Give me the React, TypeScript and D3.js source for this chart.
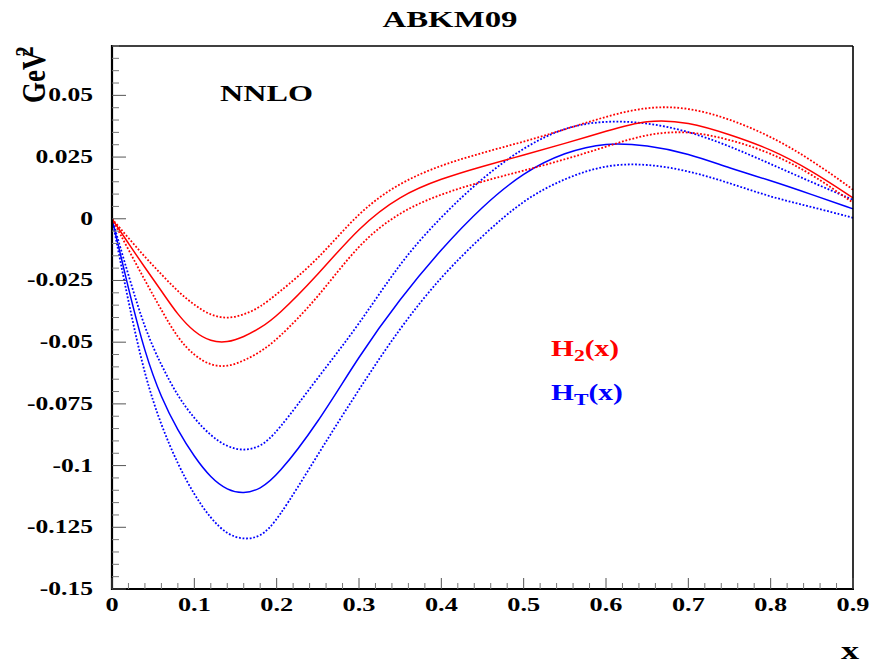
import React from 'react';
import * as d3 from 'd3';

// x grid shared by all series
const xValues = [0, 0.02, 0.04, 0.06, 0.08, 0.1, 0.12, 0.14, 0.16, 0.18, 0.2, 0.25, 0.3, 0.35, 0.4, 0.45, 0.5, 0.55, 0.6, 0.65, 0.7, 0.75, 0.8, 0.85, 0.9];

// H2(x) central and band
const h2Central = [0, -0.0100, -0.0198, -0.0292, -0.0390, -0.0460, -0.0498, -0.0502, -0.0479, -0.0443, -0.0397, -0.0228, -0.0033, 0.0095, 0.0163, 0.0213, 0.0258, 0.0305, 0.0355, 0.0403, 0.0393, 0.0342, 0.0283, 0.0195, 0.0085];
const h2Upper = [0, -0.0078, -0.0155, -0.0225, -0.0295, -0.0350, -0.0392, -0.0405, -0.0390, -0.0358, -0.0306, -0.0168, 0.0030, 0.0148, 0.0218, 0.0268, 0.0312, 0.0362, 0.0415, 0.0455, 0.0452, 0.0405, 0.0335, 0.0238, 0.0118];
const h2Lower = [0, -0.0125, -0.0250, -0.0370, -0.0485, -0.0555, -0.0595, -0.0600, -0.0576, -0.0540, -0.0492, -0.0322, -0.0098, 0.0030, 0.0101, 0.0152, 0.0195, 0.0240, 0.0292, 0.0345, 0.0357, 0.0322, 0.0268, 0.0182, 0.0065];

// HT(x) central and band
const htCentral = [0, -0.0285, -0.0545, -0.0728, -0.0858, -0.0965, -0.1050, -0.1100, -0.1115, -0.1095, -0.1045, -0.0829, -0.0555, -0.0323, -0.0122, 0.0052, 0.0189, 0.0270, 0.0310, 0.0298, 0.0265, 0.0205, 0.0155, 0.0098, 0.0040];
const htUpper = [0, -0.0230, -0.0448, -0.0595, -0.0720, -0.0810, -0.0880, -0.0925, -0.0940, -0.0925, -0.0868, -0.0643, -0.0430, -0.0175, 0.0010, 0.0167, 0.0290, 0.0373, 0.0398, 0.0390, 0.0355, 0.0295, 0.0222, 0.0148, 0.0077];
const htLower = [0, -0.0340, -0.0640, -0.0840, -0.0995, -0.1120, -0.1215, -0.1280, -0.1300, -0.1290, -0.1228, -0.0955, -0.0690, -0.0440, -0.0232, -0.0068, 0.0078, 0.0165, 0.0220, 0.0223, 0.0195, 0.0145, 0.0088, 0.0048, 0.0004];

const yTickValues = [0.05, 0.025, 0, -0.025, -0.05, -0.075, -0.1, -0.125, -0.15];
const yTickLabels = ['0.05', '0.025', '0', '-0.025', '-0.05', '-0.075', '-0.1', '-0.125', '-0.15'];
const xTickValues = [0, 0.1, 0.2, 0.3, 0.4, 0.5, 0.6, 0.7, 0.8, 0.9];
const xTickLabels = ['0', '0.1', '0.2', '0.3', '0.4', '0.5', '0.6', '0.7', '0.8', '0.9'];

const FONT = '"Liberation Serif", "DejaVu Serif", serif';
const RED = '#ff0000';
const BLUE = '#0000ff';

export default function App() {
  const W = 872;
  const H = 664;
  const x = d3.scaleLinear().domain([0, 0.9]).range([112, 853]);
  const y = d3.scaleLinear().domain([-0.15, 0.07]).range([589, 46]);

  const mkLine = (vals: number[]) =>
    d3
      .line<number>()
      .x((_, i) => x(xValues[i]))
      .y((d) => y(d))
      .curve(d3.curveBasis)(vals) || '';

  const minorY = d3.range(0, 45).filter((i) => i % 5 !== 0).map((i) => -0.15 + i * 0.005);
  const minorX = d3.range(0, 46).filter((i) => i % 5 !== 0).map((i) => i * 0.02);

  const series = [
    { vals: htUpper, color: BLUE, dotted: true },
    { vals: htLower, color: BLUE, dotted: true },
    { vals: htCentral, color: BLUE, dotted: false },
    { vals: h2Upper, color: RED, dotted: true },
    { vals: h2Lower, color: RED, dotted: true },
    { vals: h2Central, color: RED, dotted: false },
  ];

  const sxY = 1.42;
  const sxX = 1.35;

  return (
    <svg
      width={W}
      height={H}
      style={{ position: 'absolute', left: 0, top: 0, background: '#fff' }}
      fontFamily={FONT}
      fontWeight="bold"
    >
      <rect x={0} y={0} width={W} height={H} fill="#fff" />
      {/* title */}
      <text transform={`translate(450,27) scale(1.46,1)`} textAnchor="middle" fontSize={22.5}>
        ABKM09
      </text>

      {/* curves */}
      <g fill="none">
        {series.map((s, i) => (
          <path
            key={i}
            d={mkLine(s.vals)}
            stroke={s.color}
            strokeWidth={s.dotted ? 1.8 : 1.5}
            strokeDasharray={s.dotted ? '1.8 1.8' : undefined}
          />
        ))}
      </g>

      {/* frame */}
      <line x1={112} y1={46} x2={853} y2={46} stroke="#000" strokeWidth={1.6} />
      <line x1={853} y1={46} x2={853} y2={589} stroke="#000" strokeWidth={1.6} />
      <line x1={112} y1={45} x2={112} y2={590} stroke="#000" strokeWidth={2.2} />
      <line x1={111} y1={589} x2={854} y2={589} stroke="#000" strokeWidth={2.2} />

      {/* y ticks */}
      {yTickValues.map((v) => (
        <line key={'yM' + v} x1={112} x2={126} y1={y(v)} y2={y(v)} stroke="#555" strokeWidth={1} />
      ))}
      {minorY.map((v) => (
        <line key={'ym' + v} x1={112} x2={119} y1={y(v)} y2={y(v)} stroke="#777" strokeWidth={1} />
      ))}
      {/* x ticks */}
      {xTickValues.map((v) => (
        <line key={'xM' + v} x1={x(v)} x2={x(v)} y1={589} y2={578} stroke="#555" strokeWidth={1} />
      ))}
      {minorX.map((v) => (
        <line key={'xm' + v} x1={x(v)} x2={x(v)} y1={589} y2={583} stroke="#777" strokeWidth={1} />
      ))}

      {/* y tick labels */}
      {yTickValues.map((v, i) => (
        <text key={'yl' + v} transform={`translate(93,${y(v) + 6}) scale(${sxY},1)`} textAnchor="end" fontSize={18}>
          {yTickLabels[i]}
        </text>
      ))}
      {/* x tick labels */}
      {xTickValues.map((v, i) => (
        <text key={'xl' + v} transform={`translate(${x(v)},611) scale(${sxX},1)`} textAnchor="middle" fontSize={19.5}>
          {xTickLabels[i]}
        </text>
      ))}

      {/* axis titles */}
      <text transform="translate(850,659) scale(1.45,1)" textAnchor="middle" fontSize={25}>
        x
      </text>
      <text transform="translate(45,103) scale(1.28,1) rotate(-90)" fontSize={27}>
        GeV
        <tspan dx={-6} dy={-9} fontSize={20}>
          2
        </tspan>
      </text>

      {/* annotations */}
      <text transform="translate(220,101) scale(1.43,1)" fontSize={22.5}>
        NNLO
      </text>
      <text transform="translate(551,356) scale(1.28,1)" fontSize={23} fill={RED}>
        H
        <tspan dy={5} fontSize={17}>
          2
        </tspan>
        <tspan dy={-5}>(x)</tspan>
      </text>
      <text transform="translate(551,400) scale(1.28,1)" fontSize={23} fill={BLUE}>
        H
        <tspan dy={5} fontSize={17}>
          T
        </tspan>
        <tspan dy={-5}>(x)</tspan>
      </text>
    </svg>
  );
}
